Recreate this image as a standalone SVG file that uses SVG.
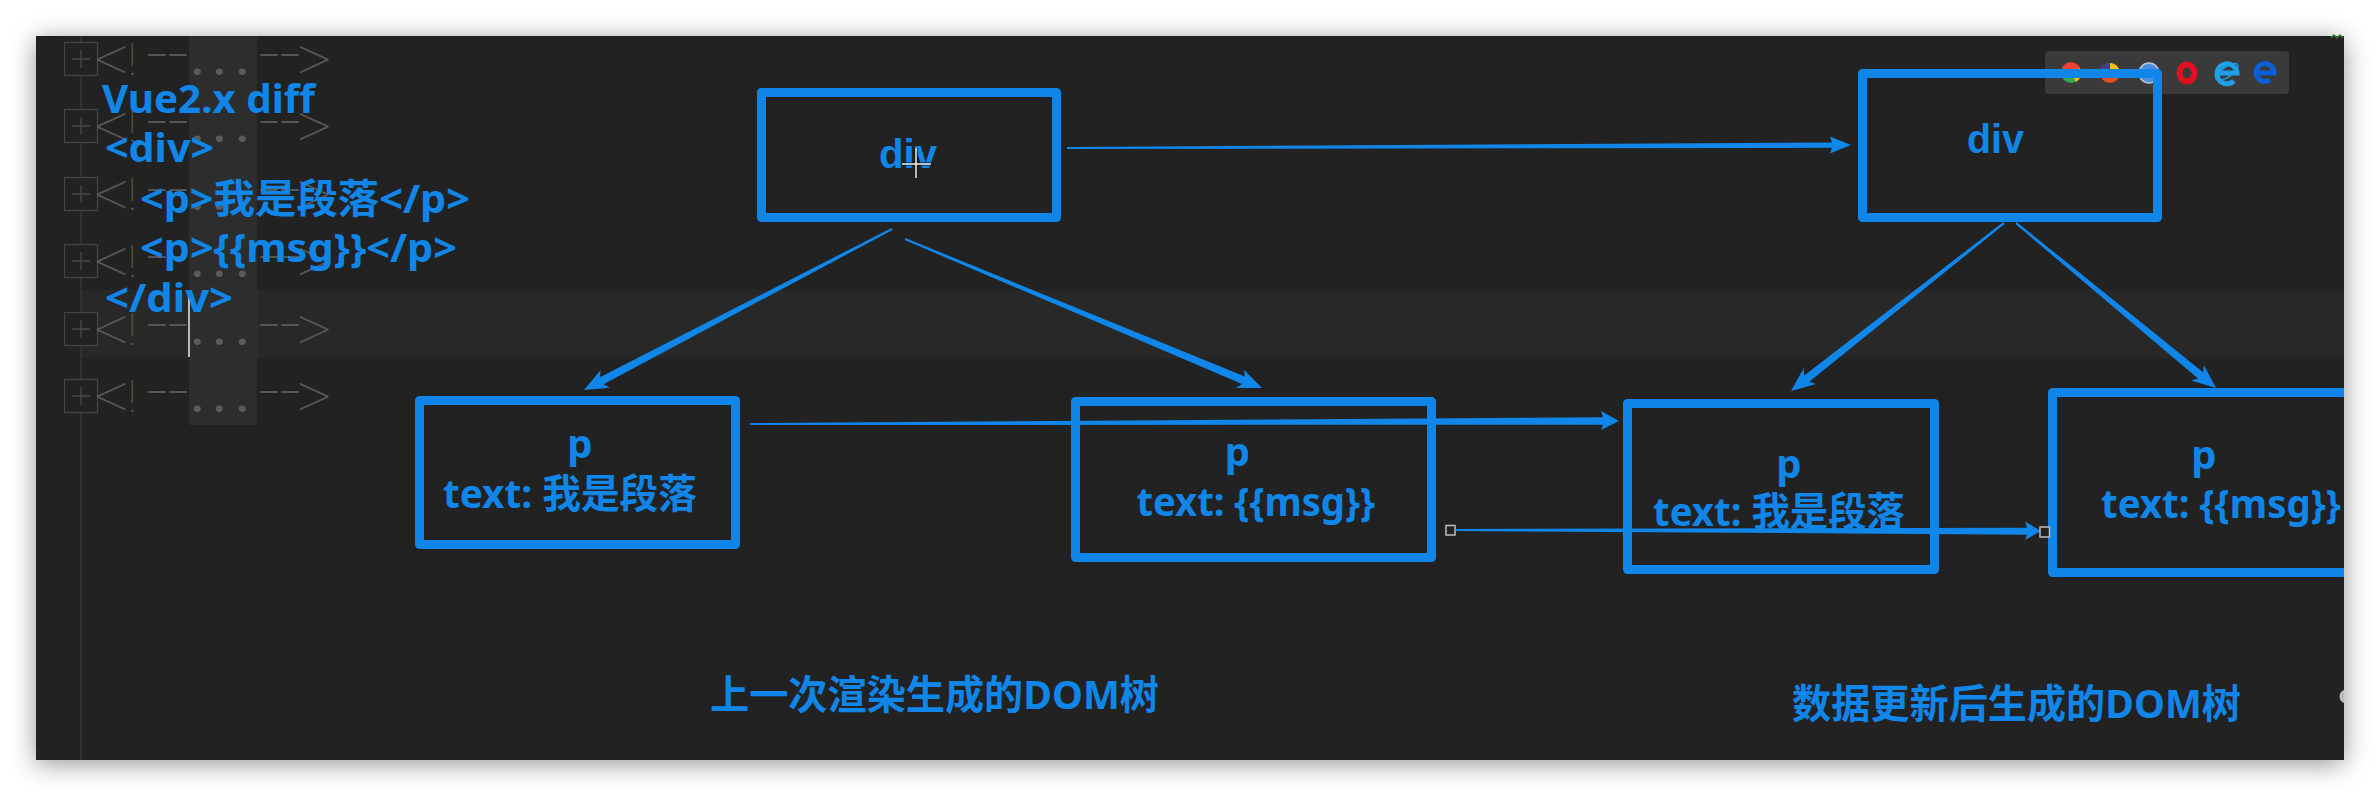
<svg xmlns="http://www.w3.org/2000/svg" width="2380" height="796" viewBox="0 0 2380 796">
<style>
.box{fill:none;stroke:#0f86e8;stroke-width:9;stroke-linejoin:round}
.t{fill:#0f86e8;font-family:"Noto Sans","Noto Sans CJK SC",sans-serif;font-weight:700}
.s{font-size:40px}
.n{font-size:40px}
.c{font-size:40px}
.dv{font-size:40px;font-family:"Liberation Sans",sans-serif}
.f{fill:#565656;font-family:Roboto,sans-serif;font-weight:100;font-size:44px}
.f .a{font-size:70px}
.f .d{font-size:76px}
.f .o{font-weight:700;fill:#5c5c5c}
.arrow{fill:#0f86e8}
.h{fill:#222;stroke:#bdbdbd;stroke-width:1.5}
</style>
<defs>
<filter id="sh" x="-5%" y="-15%" width="110%" height="130%"><feDropShadow dx="0" dy="4" stdDeviation="13" flood-color="#000" flood-opacity="0.42"/></filter>
<g id="foldbox"><rect x="64.5" y="0.5" width="33" height="33" fill="#222" stroke="#444" stroke-width="1.3"/><path d="M72 17H90M81 8V26" stroke="#4a4a4a" stroke-width="1.3" fill="none"/></g>
</defs>
<rect width="2380" height="796" fill="#fff"/>
<rect x="36" y="36" width="2308" height="724" fill="#212121" filter="url(#sh)"/>
<g id="editor">
<rect x="82" y="290" width="2262" height="68" fill="#282828"/>
<rect x="189" y="36" width="68" height="389" fill="#2d2d2d"/>
<path d="M81 36V760" stroke="#3a3a3a" stroke-width="1.3"/>
<use href="#foldbox" y="42"/><use href="#foldbox" y="109"/><use href="#foldbox" y="177"/><use href="#foldbox" y="244"/><use href="#foldbox" y="312"/><use href="#foldbox" y="379"/>
<text class="f"><tspan class="a" x="94" y="83">&lt;</tspan><tspan x="128" y="75">!</tspan><tspan class="d" x="146 167" y="80">--</tspan><tspan class="o" x="191 213 236" y="75">...</tspan><tspan class="d" x="258 279" y="80">--</tspan><tspan class="a" x="296" y="83">&gt;</tspan></text>
<text class="f"><tspan class="a" x="94" y="150">&lt;</tspan><tspan x="128" y="142">!</tspan><tspan class="d" x="146 167" y="147">--</tspan><tspan class="o" x="191 213 236" y="142">...</tspan><tspan class="d" x="258 279" y="147">--</tspan><tspan class="a" x="296" y="150">&gt;</tspan></text>
<text class="f"><tspan class="a" x="94" y="218">&lt;</tspan><tspan x="128" y="210">!</tspan><tspan class="d" x="146 167" y="215">--</tspan><tspan class="o" x="191 213 236" y="210">...</tspan><tspan class="d" x="258 279" y="215">--</tspan><tspan class="a" x="296" y="218">&gt;</tspan></text>
<text class="f"><tspan class="a" x="94" y="285">&lt;</tspan><tspan x="128" y="277">!</tspan><tspan class="d" x="146 167" y="282">--</tspan><tspan class="o" x="191 213 236" y="277">...</tspan><tspan class="d" x="258 279" y="282">--</tspan><tspan class="a" x="296" y="285">&gt;</tspan></text>
<text class="f"><tspan class="a" x="94" y="353">&lt;</tspan><tspan x="128" y="345">!</tspan><tspan class="d" x="146 167" y="350">--</tspan><tspan class="o" x="191 213 236" y="345">...</tspan><tspan class="d" x="258 279" y="350">--</tspan><tspan class="a" x="296" y="353">&gt;</tspan></text>
<text class="f"><tspan class="a" x="94" y="420">&lt;</tspan><tspan x="128" y="412">!</tspan><tspan class="d" x="146 167" y="417">--</tspan><tspan class="o" x="191 213 236" y="412">...</tspan><tspan class="d" x="258 279" y="417">--</tspan><tspan class="a" x="296" y="420">&gt;</tspan></text>
<path d="M189 291V357" stroke="#bbb" stroke-width="2"/>
<path d="M2331 38l3 -3 3 3 3 -3 3 3" fill="none" stroke="#2e7d32" stroke-width="1.3"/>
<path d="M2344 690a7 7 0 0 0 0 13z" fill="#bdbdbd"/>
</g>
<g id="browser-icons">
<rect x="2045" y="51" width="244" height="43" rx="4" fill="#3a3a3a"/>
<circle cx="2071" cy="73" r="10" fill="#34a853"/><path d="M2071 73L2062 68A10 10 0 0 1 2080 68Z" fill="#ea4335"/><path d="M2071 73L2080 68A10 10 0 0 1 2076 82Z" fill="#fbbc05"/>
<circle cx="2110" cy="73" r="10" fill="#e8501f"/><path d="M2110 63A10 10 0 0 1 2120 73L2110 73Z" fill="#f4c20d"/><path d="M2100 73A10 10 0 0 1 2110 63L2110 73Z" fill="#3a3fa0"/>
<circle cx="2149" cy="73" r="10" fill="#4d8fe0" stroke="#b9c6dc" stroke-width="1.5"/>
<ellipse cx="2187" cy="73" rx="7.5" ry="8.5" fill="none" stroke="#e01020" stroke-width="6"/>
<path d="M2218 73H2237A10 10 0 1 0 2234 81" fill="none" stroke="#1ea0e8" stroke-width="5"/><ellipse cx="2227" cy="72" rx="13" ry="5" transform="rotate(-35 2227 72)" fill="none" stroke="#1ea0e8" stroke-width="1.3"/>
<path d="M2258 73H2274A9 9 0 1 0 2270 80" fill="none" stroke="#0b5fd8" stroke-width="5"/>
</g>
<g id="node-div-old"><rect class="box" x="761.5" y="92.5" width="295" height="125"/><text class="t dv" x="879" y="168" textLength="58" lengthAdjust="spacingAndGlyphs">div</text><path d="M902 164H931M916 148V178" stroke="#111" stroke-width="3.5" opacity=".7"/><path d="M902 164H931M916 148V178" stroke="#f2f2f2" stroke-width="1.5"/></g>
<g id="node-div-new"><rect class="box" x="1862.5" y="73.5" width="295" height="144"/><text class="t dv" x="1967" y="153" textLength="57" lengthAdjust="spacingAndGlyphs">div</text></g>
<g id="node-p1-old"><rect class="box" x="419.5" y="400.5" width="316" height="144"/><text class="t n" x="580" y="458" text-anchor="middle">p</text><text class="t n" x="443" y="508" textLength="254" lengthAdjust="spacingAndGlyphs">text: 我是段落</text></g>
<g id="node-p2-old"><rect class="box" x="1075.5" y="401.5" width="356" height="156"/><text class="t n" x="1237.5" y="466" text-anchor="middle">p</text><text class="t n" x="1136.5" y="516" textLength="238.5" lengthAdjust="spacingAndGlyphs">text: {{msg}}</text></g>
<g id="node-p1-new"><rect class="box" x="1627.5" y="403.5" width="307" height="166"/><text class="t n" x="1789" y="478" text-anchor="middle">p</text><text class="t n" x="1653" y="526" textLength="252" lengthAdjust="spacingAndGlyphs">text: 我是段落</text></g>
<g id="node-p2-new"><path class="box" d="M2344 392.5H2052.5V572.5H2344"/><text class="t n" x="2204" y="469" text-anchor="middle">p</text><text class="t n" x="2101" y="518" textLength="240" lengthAdjust="spacingAndGlyphs">text: {{msg}}</text></g>
<g id="connectors">
<path class="arrow" d="M1067 147L1832 142.4L1830 136.5L1851 145L1830 153.5L1832 147.8L1067 149Z"/>
<path class="arrow" d="M891.5 228L599.8 377.2L600.7 370L584 390L609.9 387.8L603.6 384.2L892.5 230Z"/>
<path class="arrow" d="M905.4 238L1245 376.6L1243.6 369.6L1262 388L1236 388L1242 384L904.6 240Z"/>
<path class="arrow" d="M2003.4 222L1804.2 375.4L1803.6 368.2L1791 391L1816 384L1809.2 381.8L2004.6 224Z"/>
<path class="arrow" d="M2016.6 222L2203.1 372.2L2203.9 365L2216 388L2191.1 380.4L2198 378.4L2015.4 224Z"/>
<path class="arrow" d="M750 423L1603 417.3L1601 411L1619 421L1601 430L1603 424.7L750 425Z"/>
<path class="arrow" d="M1456 529L2027 527.8L2025 521.5L2041 531L2025 540L2027 534.7L1456 531Z"/>
<rect class="h" x="1446" y="525.5" width="9" height="9.5"/>
<rect class="h" x="2040" y="527" width="9.5" height="10"/>
</g>
<g id="source-code">
<text class="t s" x="102" y="113" textLength="213" lengthAdjust="spacingAndGlyphs">Vue2.x diff</text>
<text class="t s" x="105" y="162" textLength="109" lengthAdjust="spacingAndGlyphs">&lt;div&gt;</text>
<text class="t s" x="140" y="213" textLength="330" lengthAdjust="spacingAndGlyphs">&lt;p&gt;我是段落&lt;/p&gt;</text>
<text class="t s" x="140" y="262" textLength="317" lengthAdjust="spacingAndGlyphs">&lt;p&gt;{{msg}}&lt;/p&gt;</text>
<text class="t s" x="105" y="312" textLength="128" lengthAdjust="spacingAndGlyphs">&lt;/div&gt;</text>
</g>
<g id="captions">
<text class="t c" x="710" y="709" textLength="449" lengthAdjust="spacingAndGlyphs">上一次渲染生成的DOM树</text>
<text class="t c" x="1792" y="718" textLength="449" lengthAdjust="spacingAndGlyphs">数据更新后生成的DOM树</text>
</g>
</svg>
